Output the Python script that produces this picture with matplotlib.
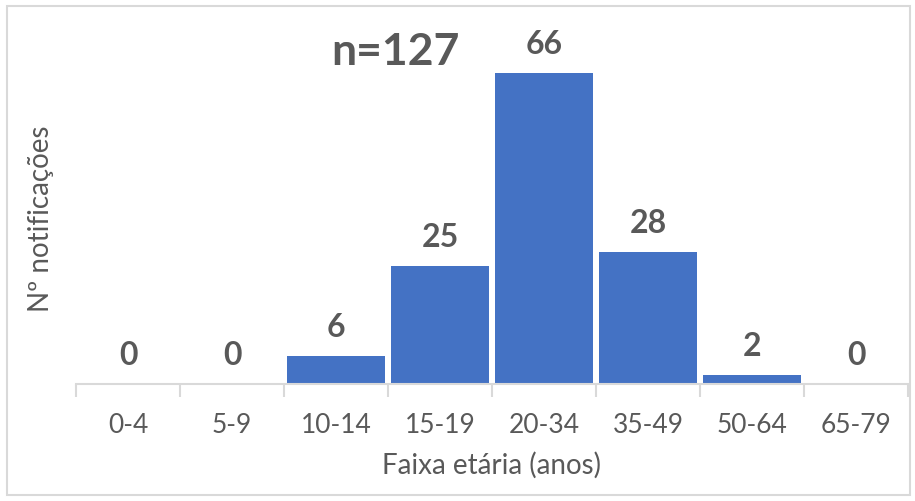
import matplotlib
matplotlib.use('Agg')
import matplotlib.pyplot as plt
from matplotlib.patches import Rectangle

# Dados
faixas = ['0-4', '5-9', '10-14', '15-19', '20-34', '35-49', '50-64', '65-79']
notificacoes = [0, 0, 6, 25, 66, 28, 2, 0]
total = 'n=127'

AZUL = '#4472C4'
CINZA_TEXTO = '#595959'
CINZA_LINHA = '#D9D9D9'

plt.rcParams['font.family'] = ['Lato', 'DejaVu Sans']

W, H = 915, 501
fig = plt.figure(figsize=(W / 100, H / 100), dpi=100)
ax = fig.add_axes([76 / W, (H - 384) / H, (908 - 76) / W, (384 - 54) / H])

x = list(range(len(faixas)))
ax.bar(x, notificacoes, width=0.945, color=AZUL, zorder=2)

for xi, v in zip(x, notificacoes):
    ax.annotate(str(v), (xi, v), xytext=(0, 10), textcoords='offset points',
                ha='center', va='bottom', fontsize=23, fontweight='bold',
                color=CINZA_TEXTO)

ax.set_xlim(-0.5, len(faixas) - 0.5)
ax.set_ylim(0, 70)

for lado in ['top', 'right', 'left']:
    ax.spines[lado].set_visible(False)
ax.spines['bottom'].set_color(CINZA_LINHA)
ax.spines['bottom'].set_linewidth(1.5)

ax.set_yticks([])
ax.set_xticks(x)
ax.set_xticklabels(faixas, fontsize=19, color=CINZA_TEXTO)
ax.tick_params(axis='x', which='major', length=0, pad=21)
ax.set_xticks([i - 0.5 for i in range(len(faixas) + 1)], minor=True)
ax.tick_params(axis='x', which='minor', length=9, width=1.5, color=CINZA_LINHA)

ax.set_xlabel('Faixa etária (anos)', fontsize=20, color=CINZA_TEXTO, labelpad=10)
ax.set_ylabel('Nº notificações', fontsize=20, color=CINZA_TEXTO, labelpad=16)

fig.text(395 / W, 1 - 52 / H, total, ha='center', va='center', fontsize=32,
         fontweight='bold', color=CINZA_TEXTO)

# Moldura do grafico
fig.patches.append(Rectangle((7 / W, 6 / H), (910 - 7) / W, (495 - 6) / H,
                             transform=fig.transFigure, fill=False,
                             edgecolor=CINZA_LINHA, linewidth=1.5))

fig.savefig('out.png', dpi=100, facecolor='white')
